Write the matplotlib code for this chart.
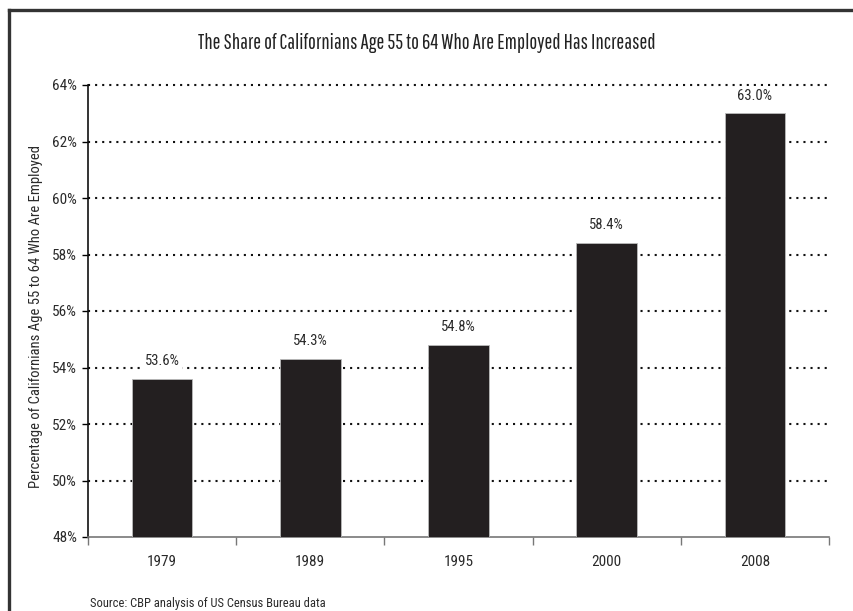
import matplotlib
matplotlib.use("Agg")
import matplotlib.pyplot as plt
from matplotlib.lines import Line2D

years = ["1979", "1989", "1995", "2000", "2008"]
shares = [53.6, 54.3, 54.8, 58.4, 63.0]
value_labels = ["53.6%", "54.3%", "54.8%", "58.4%", "63.0%"]
y_ticks = [48, 50, 52, 54, 56, 58, 60, 62, 64]
y_tick_labels = ["48%", "50%", "52%", "54%", "56%", "58%", "60%", "62%", "64%"]
title = "The Share of Californians Age 55 to 64 Who Are Employed Has Increased"
ylabel = "Percentage of Californians Age 55 to 64 Who Are Employed"
source = "Source: CBP analysis of US Census Bureau data"

body_font = ["Roboto Condensed", "DejaVu Sans"]
title_font = ["Pathway Gothic One", "Roboto Condensed", "DejaVu Sans"]
plt.rcParams['font.family'] = body_font

fig = plt.figure(figsize=(8.54, 6.11), dpi=100)
ax = fig.add_axes([88/854, 1-537/611, (829-88)/854, (537-85)/611])

x = list(range(len(years)))
ax.bar(x, [s - 48 for s in shares], bottom=48, width=0.41, color="#231f20",
       edgecolor="#bbbbbb", linewidth=0.6, zorder=3)
for xi, s, lab in zip(x, shares, value_labels):
    ax.text(xi, s + 0.38, lab, ha="center", va="bottom", fontsize=10.5, color="#2a2a2a",
            zorder=5, bbox=dict(facecolor="white", edgecolor="none", pad=2))

for t in y_ticks[1:]:
    ax.axhline(t, color="#111111", linewidth=1.5, linestyle=(0, (1.0, 2.4)),
               zorder=1, clip_on=False)

ax.set_xlim(-0.5, len(years) - 0.5)
ax.set_ylim(48, 64)
ax.set_yticks(y_ticks)
ax.set_yticklabels(y_tick_labels, fontsize=11, color="#2a2a2a")
ax.set_xticks(x)
ax.set_xticklabels(years, fontsize=11, color="#2a2a2a")
ax.tick_params(axis="x", length=0, pad=13)
ax.tick_params(axis="y", length=4, width=1, direction="out", pad=4)
ax.set_xticks([i - 0.5 for i in range(len(years) + 1)], minor=True)
ax.tick_params(axis="x", which="minor", length=6, width=1, color="#777777", direction="out")

for sp in ["top", "right"]:
    ax.spines[sp].set_visible(False)
ax.spines["left"].set_color("#111111")
ax.spines["left"].set_linewidth(1.2)
ax.spines["bottom"].set_color("#777777")
ax.spines["bottom"].set_linewidth(1.2)

fig.text(36/854, 1-316/611, ylabel, rotation=90, ha="center", va="center",
         fontsize=10.5, color="#2a2a2a")
fig.text(427/854, 1-43/611, title, ha="center", va="center", fontsize=15,
         color="#222222", family=title_font)
fig.text(90/854, 1-603/611, source, ha="left", va="center", fontsize=9, color="#2a2a2a")

fig.add_artist(Line2D([9.5/854, 1.0], [1-10/611, 1-10/611], transform=fig.transFigure,
                      color="#333333", linewidth=2.4))
fig.add_artist(Line2D([9.5/854, 9.5/854], [0, 1-10/611], transform=fig.transFigure,
                      color="#333333", linewidth=2.4))

fig.savefig("out.png", dpi=100)
